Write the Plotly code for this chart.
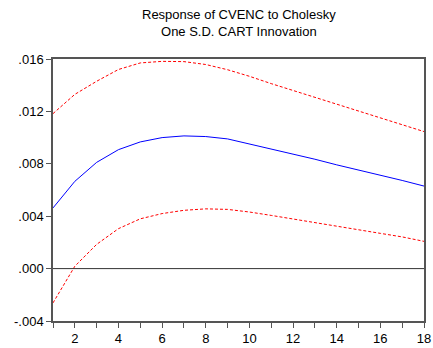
import plotly.graph_objects as go

periods = list(range(1, 19))
response = [4.63, 6.66, 8.11, 9.08, 9.67, 10.0, 10.13, 10.08, 9.9, 9.52, 9.14, 8.76, 8.35, 7.92, 7.54, 7.16, 6.73, 6.3]
upper = [11.83, 13.3, 14.3, 15.2, 15.7, 15.82, 15.8, 15.58, 15.18, 14.68, 14.12, 13.6, 13.06, 12.55, 12.02, 11.5, 10.98, 10.46]
lower = [-2.62, 0.18, 1.85, 3.05, 3.8, 4.2, 4.45, 4.56, 4.52, 4.32, 4.06, 3.78, 3.5, 3.2, 2.95, 2.69, 2.42, 2.08]
scale = 0.001
response = [v * scale for v in response]
upper = [v * scale for v in upper]
lower = [v * scale for v in lower]

y_tickvals = [-0.004, 0.0, 0.004, 0.008, 0.012, 0.016]
y_ticktext = ["-.004", ".000", ".004", ".008", ".012", ".016"]
x_tickvals = list(range(1, 19))
x_ticktext = [str(v) if v % 2 == 0 else "" for v in x_tickvals]

title_text = "Response of CVENC to Cholesky<br>One S.D. CART Innovation"

font_family = "Liberation Sans, Arial, sans-serif"

fig = go.Figure()
fig.add_trace(go.Scatter(x=periods, y=upper, mode="lines",
                         line=dict(color="#ff0000", width=1, dash="3px,2px")))
fig.add_trace(go.Scatter(x=periods, y=lower, mode="lines",
                         line=dict(color="#ff0000", width=1, dash="3px,2px")))
fig.add_trace(go.Scatter(x=periods, y=response, mode="lines",
                         line=dict(color="#0000ff", width=1)))

fig.add_hline(y=0, line=dict(color="#333333", width=1))

plot_h = 348 - 59 - 27
fig.add_annotation(text=title_text, xref="paper", yref="paper",
                   x=0.5, y=1 + 18 / plot_h, xanchor="center", yanchor="bottom",
                   showarrow=False, align="center",
                   font=dict(family=font_family, size=13, color="black"))

fig.update_layout(
    width=433, height=348,
    margin=dict(l=53, r=9, t=59, b=27, autoexpand=False),
    paper_bgcolor="white", plot_bgcolor="white",
    showlegend=False,
    font=dict(family=font_family, size=12, color="black"),
)
fig.update_xaxes(range=[1, 18], tickvals=x_tickvals, ticktext=x_ticktext,
                 ticks="outside", ticklen=5, tickcolor="#555555",
                 showgrid=False, zeroline=False, automargin=False,
                 showline=True, linecolor="#555555", linewidth=1.5, mirror=True,
                 tickfont=dict(size=13))
fig.update_yaxes(range=[-0.004, 0.016], tickvals=y_tickvals, ticktext=y_ticktext,
                 ticks="outside", ticklen=5, tickcolor="#555555",
                 showgrid=False, zeroline=False, automargin=False,
                 showline=True, linecolor="#555555", linewidth=1.5, mirror=True,
                 tickfont=dict(size=13))

fig.write_html("out.html")
